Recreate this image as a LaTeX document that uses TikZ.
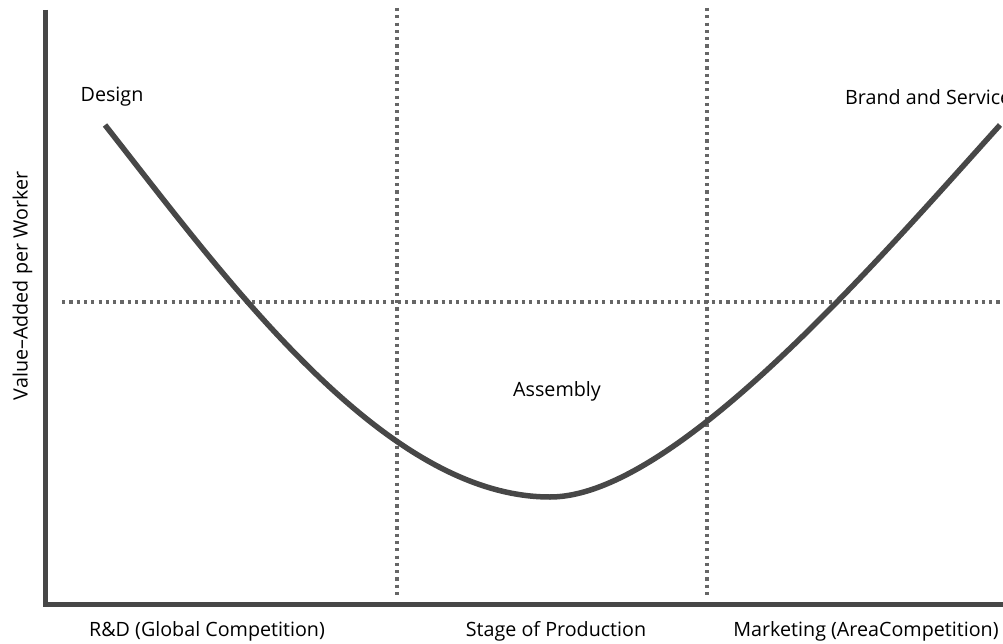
\documentclass[tikz,border=0pt]{standalone}
\usepackage{fontspec}
\setmainfont{Open Sans}
\begin{document}
\begin{tikzpicture}[x=1pt,y=-1pt,
  axisline/.style={draw=black!72, line width=5pt},
  guide/.style={draw=black!60, line width=3.2pt, dash pattern=on 3.2pt off 4.1pt},
  curveline/.style={draw=black!72, line width=5.5pt},
  lbl/.style={font=\fontsize{19.7}{22}\selectfont, text=black, inner sep=0pt}]
\useasboundingbox (0,0) rectangle (1003,644);
\clip (0,0) rectangle (1003,644);
% guides
\coordinate (v1t) at (397,8);  \coordinate (v1b) at (397,596);
\coordinate (v2t) at (707,8);  \coordinate (v2b) at (707,596);
\coordinate (hl) at (62,302);  \coordinate (hr) at (1003,302);
\draw[guide] (v1t) -- (v1b);
\draw[guide] (v2t) -- (v2b);
\draw[guide] (hl) -- (hr);
% axes
\coordinate (ytop) at (45.5,10);
\coordinate (ybot) at (45.5,607);
\coordinate (xstart) at (43,604.5);
\coordinate (xend) at (1003,604.5);
\draw[axisline] (ytop) -- (ybot);
\draw[axisline] (xstart) -- (xend);
% curve
\coordinate (cstart) at (105,125);
\coordinate (cmin) at (550,497);
\coordinate (cend) at (1000,125);
\draw[curveline] (cstart) .. controls (225,277.5) and (383,497) .. (cmin)
  .. controls (674,497) and (875.5,263) .. (cend);
% labels
\node[lbl] (design) at (112,97) {Design};
\node[lbl, anchor=west] (brand) at (845,97) {Brand and Service};
\node[lbl] (assembly) at (557,391) {Assembly};
\node[lbl] (rd) at (207,631) {R\&D (Global Competition)};
\node[lbl] (stage) at (556,631) {Stage of Production};
\node[lbl] (mkt) at (866,631) {Marketing (AreaCompetition)};
\node[lbl, rotate=90] (ylab) at (22.5,286) {Value–Added per Worker};
\end{tikzpicture}
\end{document}
